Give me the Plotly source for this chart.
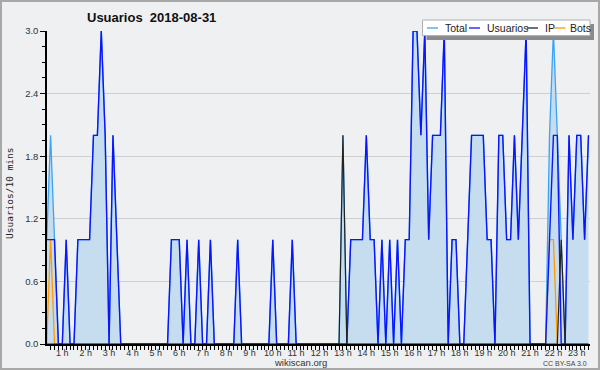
import plotly.graph_objects as go

# ---- data: 10-minute slots of 2018-08-31 (slot 2 = 00:20 ... slot 141 = 23:30) ----
first_slot = 2
slot_minutes = 10

usuarios = [
    1, 1, 1, 0, 0, 1, 0, 0, 1, 1,
    1, 1, 2, 2, 3, 2, 0, 2, 1, 0,
    0, 0, 0, 0, 0, 0, 0, 0, 0, 0,
    0, 0, 1, 1, 1, 0, 1, 0, 0, 1,
    0, 0, 1, 0, 0, 0, 0, 0, 0, 1,
    0, 0, 0, 0, 0, 0, 0, 0, 1, 0,
    0, 0, 0, 1, 0, 0, 0, 0, 0, 0,
    0, 0, 0, 0, 0, 0, 0, 0, 1, 1,
    1, 1, 2, 1, 1, 0, 1, 0, 1, 0,
    1, 0, 1, 1, 3, 3, 2, 3, 1, 2,
    2, 2, 3, 0, 1, 1, 0, 0, 1, 2,
    2, 2, 2, 1, 1, 0, 2, 2, 1, 1,
    2, 1, 2, 3, 0, 0, 0, 0, 0, 1,
    2, 2, 0, 0, 2, 1, 2, 2, 1, 2,
]
ip = [
    0, 0, 0, 0, 0, 0, 0, 0, 0, 0,
    0, 0, 0, 0, 0, 0, 0, 0, 0, 0,
    0, 0, 0, 0, 0, 0, 0, 0, 0, 0,
    0, 0, 0, 0, 0, 0, 0, 0, 0, 0,
    0, 0, 0, 0, 0, 0, 0, 0, 0, 0,
    0, 0, 0, 0, 0, 0, 0, 0, 0, 0,
    0, 0, 0, 0, 0, 0, 0, 0, 0, 0,
    0, 0, 0, 0, 0, 0, 2, 0, 0, 0,
    0, 0, 0, 0, 0, 0, 0, 0, 0, 0,
    0, 0, 0, 0, 0, 0, 0, 0, 0, 0,
    0, 0, 0, 0, 0, 0, 0, 0, 0, 0,
    0, 0, 0, 0, 0, 0, 0, 0, 0, 0,
    0, 0, 0, 0, 0, 0, 0, 0, 0, 0,
    0, 0, 1, 0, 0, 0, 0, 0, 0, 0,
]
bots = [
    0, 1, 0, 0, 0, 0, 0, 0, 0, 0,
    0, 0, 0, 0, 0, 0, 0, 0, 0, 0,
    0, 0, 0, 0, 0, 0, 0, 0, 0, 0,
    0, 0, 0, 0, 0, 0, 0, 0, 0, 0,
    0, 0, 0, 0, 0, 0, 0, 0, 0, 0,
    0, 0, 0, 0, 0, 0, 0, 0, 0, 0,
    0, 0, 0, 0, 0, 0, 0, 0, 0, 0,
    0, 0, 0, 0, 0, 0, 0, 0, 0, 0,
    0, 0, 0, 0, 0, 0, 0, 0, 0, 0,
    0, 0, 0, 0, 0, 0, 0, 0, 0, 0,
    0, 0, 0, 0, 0, 0, 0, 0, 0, 0,
    0, 0, 0, 0, 0, 0, 0, 0, 0, 0,
    0, 0, 0, 0, 0, 0, 0, 0, 0, 1,
    1, 0, 0, 0, 0, 0, 0, 0, 0, 0,
]
total = [u + i + b for u, i, b in zip(usuarios, ip, bots)]

hour_ticks = list(range(1, 24))
hour_labels = [f"{h} h" for h in hour_ticks]
y_ticks = [0.0, 0.6, 1.2, 1.8, 2.4, 3.0]
y_labels = ["0.0", "0.6", "1.2", "1.8", "2.4", "3.0"]

title_text = "Usuarios&nbsp;&nbsp;2018-08-31"
y_title = "Usuarios/10 mins"
legend_names = ["Total", "Usuarios", "IP", "Bots"]

# ---- styles ----
C_TOTAL = "#3ba3f5"
C_FILL = "#c6ddf0"
C_USU = "#0a14ff"
C_IP = "#222222"
C_BOTS = "#ff9a00"
BG = "#eef0f1"

x_hours = [(first_slot + k) * slot_minutes / 60 for k in range(len(usuarios))]

W, H = 600, 370
ML, MR, MT, MB = 47, 10, 31, 26
PW, PH = W - ML - MR, H - MT - MB


def px(x):
    return (x - ML) / PW


def py(y):
    return (H - MB - y) / PH


fig = go.Figure()
fig.add_trace(go.Scatter(x=x_hours, y=total, mode="lines", fill="tozeroy",
                         fillcolor=C_FILL, line=dict(color=C_TOTAL, width=1.3),
                         name="Total"))
fig.add_trace(go.Scatter(x=x_hours, y=bots, mode="lines",
                         line=dict(color=C_BOTS, width=1.3), name="Bots"))
fig.add_trace(go.Scatter(x=x_hours, y=usuarios, mode="lines",
                         line=dict(color=C_USU, width=1.4), name="Usuarios"))
fig.add_trace(go.Scatter(x=x_hours, y=ip, mode="lines",
                         line=dict(color=C_IP, width=1.2), name="IP"))

shapes = []
annotations = []

# figure border
shapes.append(dict(type="rect", xref="paper", yref="paper",
                   x0=px(1), x1=px(599), y0=py(369), y1=py(1),
                   line=dict(color="#a8a8a8", width=2), fillcolor="rgba(0,0,0,0)",
                   layer="above"))

# legend (shadow + box)
shapes.append(dict(type="rect", xref="paper", yref="paper",
                   x0=px(426.5), x1=px(594), y0=py(40), y1=py(24),
                   line=dict(width=0), fillcolor="#8a8a8a", layer="above"))
shapes.append(dict(type="rect", xref="paper", yref="paper",
                   x0=px(422.5), x1=px(590), y0=py(35.6), y1=py(20),
                   line=dict(color="#b0b0b0", width=1), fillcolor="white", layer="above"))
leg_items = [(legend_names[0], C_TOTAL, 427, 442.5),
             (legend_names[1], C_USU, 469, 484.5),
             (legend_names[2], C_IP, 527, 542.5),
             (legend_names[3], C_BOTS, 554.5, 568)]
for name, col, lx, tx in leg_items:
    shapes.append(dict(type="line", xref="paper", yref="paper",
                       x0=px(lx), x1=px(lx + 11), y0=py(28), y1=py(28),
                       line=dict(color=col, width=1.3), layer="above"))
    annotations.append(dict(text=name, xref="paper", yref="paper", x=px(tx), y=py(28),
                            xanchor="left", yanchor="middle", showarrow=False,
                            font=dict(family="Liberation Sans", size=10.5, color="#222")))

annotations.append(dict(text=f"<b>{title_text}</b>", xref="paper", yref="paper",
                        x=px(151), y=py(17), xanchor="center", yanchor="middle",
                        showarrow=False,
                        font=dict(family="Liberation Sans", size=13, color="#111")))
annotations.append(dict(text=y_title, xref="paper", yref="paper", x=px(9), y=py(193),
                        xanchor="center", yanchor="middle", textangle=-90, showarrow=False,
                        font=dict(family="DejaVu Sans Mono", size=9.5, color="#222")))
annotations.append(dict(text="wikiscan.org", xref="paper", yref="paper", x=px(300), y=py(362.5),
                        xanchor="center", yanchor="middle", showarrow=False,
                        font=dict(family="Liberation Sans", size=9.5, color="#333")))
annotations.append(dict(text="CC BY-SA 3.0", xref="paper", yref="paper", x=px(589), y=py(363),
                        xanchor="right", yanchor="middle", showarrow=False,
                        font=dict(family="Liberation Sans", size=7, color="#444")))

fig.update_layout(
    width=W, height=H,
    margin=dict(l=ML, r=MR, t=MT, b=MB, pad=0),
    paper_bgcolor=BG, plot_bgcolor=BG,
    showlegend=False,
    shapes=shapes, annotations=annotations,
    xaxis=dict(range=[0.346, 23.564], tickvals=hour_ticks, ticktext=hour_labels,
               showgrid=False, zeroline=False, showline=True, linecolor="black",
               linewidth=2, ticks="outside", ticklen=4, tickcolor="black", tickwidth=1,
               ticklabelstandoff=-5,
               tickfont=dict(family="Liberation Sans", size=9, color="#333"),
               minor=dict(dtick=1/6, tick0=0, ticks="outside", ticklen=4,
                          tickcolor="black", tickwidth=1, showgrid=False)),
    yaxis=dict(range=[0, 3.0], tickvals=y_ticks, ticktext=y_labels,
               showgrid=True, gridcolor="#cfcfcf", gridwidth=1, zeroline=False,
               showline=True, linecolor="black", linewidth=1.5,
               ticks="outside", ticklen=5, tickcolor="black", tickwidth=1,
               tickfont=dict(family="Liberation Sans", size=9.5, color="#333"),
               minor=dict(dtick=0.15, tick0=0, ticks="outside", ticklen=3,
                          tickcolor="black", tickwidth=1, showgrid=False)),
)

fig.write_html("out.html", config={"displayModeBar": False},
               post_script="document.body.style.margin='0';")
